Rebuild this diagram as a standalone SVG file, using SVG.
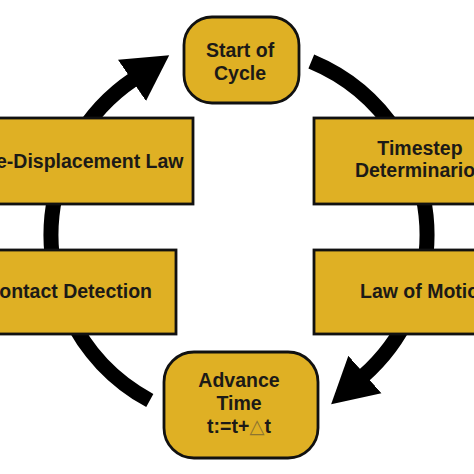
<svg xmlns="http://www.w3.org/2000/svg" width="474" height="474" viewBox="0 0 474 474">
  <style>
    .box { fill: #DFB024; stroke: #111; stroke-width: 2.8; }
    .lbl { font-family: "Liberation Sans", Arial, sans-serif; font-weight: bold; font-size: 19.5px; fill: #1c1a17; text-anchor: middle; }
    .tri { font-family: "DejaVu Sans", sans-serif; font-weight: normal; fill: #8c7430; }
    .arc { fill: none; stroke: #000; stroke-width: 15; }
  </style>
  <defs>
    <marker id="ah" markerUnits="userSpaceOnUse" markerWidth="46" markerHeight="52" viewBox="0 0 46 52" refX="2" refY="26" orient="auto">
      <path d="M0,1 L45,26 L0,51 z" fill="#000"/>
    </marker>
  </defs>
  <rect width="474" height="474" fill="#fff"/>
  <g id="connectors">
    <path class="arc" d="M311.3,61.5 A188,188 0 0 1 396.7,132.6"/>
    <path class="arc" d="M422.9,195.9 A188,188 0 0 1 422.9,274.1"/>
    <path class="arc" d="M409.4,314.4 A188,188 0 0 1 363.4,375.9" marker-end="url(#ah)"/>
    <path class="arc" d="M149.8,400.5 A188,188 0 0 1 68.6,314.4"/>
    <path class="arc" d="M55.1,274.1 A188,188 0 0 1 55.1,195.9"/>
    <path class="arc" d="M76.2,141 A188,188 0 0 1 133.6,79.3" marker-end="url(#ah)"/>
  </g>
  <g id="start">
    <rect class="box" x="184" y="17" width="115" height="86" rx="28"/>
    <text class="lbl" x="240" y="57">Start of</text>
    <text class="lbl" x="240" y="80">Cycle</text>
  </g>
  <g id="timestep">
    <rect class="box" x="314" y="118" width="214" height="86"/>
    <text class="lbl" x="420" y="155">Timestep</text>
    <text class="lbl" x="421" y="177">Determinarion</text>
  </g>
  <g id="motion">
    <rect class="box" x="314" y="250" width="224" height="84"/>
    <text class="lbl" x="425.5" y="298">Law of Motion</text>
  </g>
  <g id="advance">
    <rect class="box" x="164" y="352" width="154" height="106" rx="30"/>
    <text class="lbl" x="239" y="387">Advance</text>
    <text class="lbl" x="239" y="410">Time</text>
    <text class="lbl" x="239" y="433">t:=t+<tspan class="tri">△</tspan>t</text>
  </g>
  <g id="contact">
    <rect class="box" x="-39" y="250" width="215" height="84"/>
    <text class="lbl" x="68.6" y="298">Contact Detection</text>
  </g>
  <g id="force">
    <rect class="box" x="-56" y="118" width="249" height="86"/>
    <text class="lbl" x="68.6" y="168">Force-Displacement Law</text>
  </g>
</svg>
